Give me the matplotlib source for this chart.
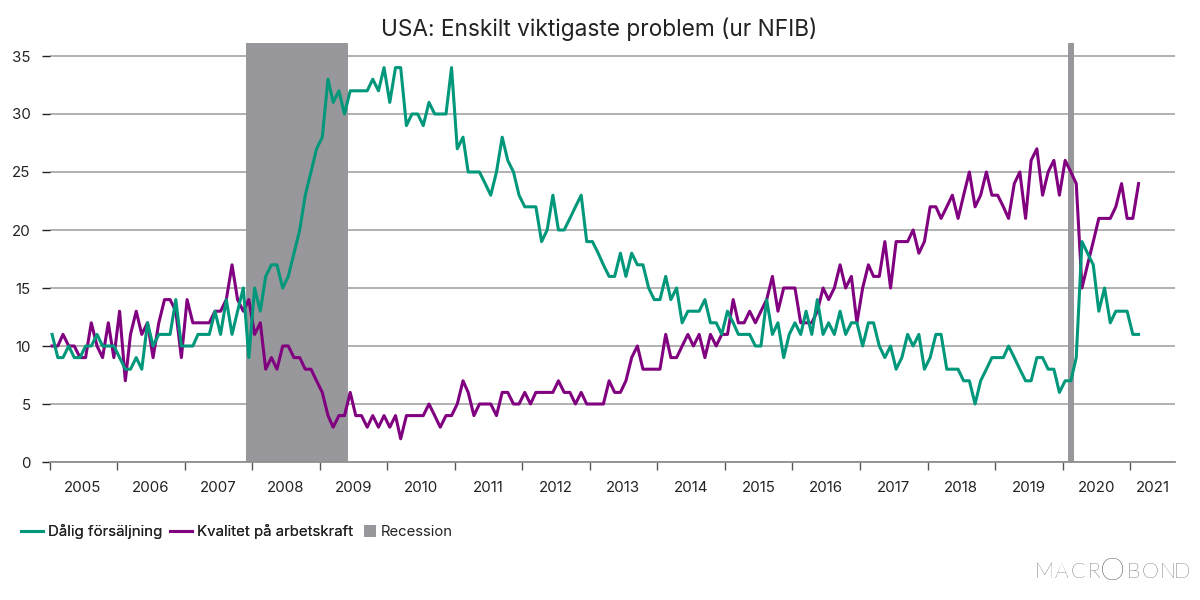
import numpy as np
import pandas as pd
import matplotlib
matplotlib.use("Agg")
import matplotlib.pyplot as plt
from matplotlib.lines import Line2D
from matplotlib.patches import Patch

FONT = "Inter"
plt.rcParams["font.family"] = [FONT, "DejaVu Sans"]

TITLE = "USA: Enskilt viktigaste problem (ur NFIB)"
LABEL_SALES = "Dålig försäljning"
LABEL_LABOR = "Kvalitet på arbetskraft"
LABEL_RECESSION = "Recession"
START = "2005-01-01"

poor_sales = [
    11, 9, 9, 10, 9, 9, 10, 10, 11, 10, 10, 10,
    9, 8, 8, 9, 8, 12, 10, 11, 11, 11, 14, 10,
    10, 10, 11, 11, 11, 13, 11, 14, 11, 13, 15, 9,
    15, 13, 16, 17, 17, 15, 16, 18, 20, 23, 25, 27,
    28, 33, 31, 32, 30, 32, 32, 32, 32, 33, 32, 34,
    31, 34, 34, 29, 30, 30, 29, 31, 30, 30, 30, 34,
    27, 28, 25, 25, 25, 24, 23, 25, 28, 26, 25, 23,
    22, 22, 22, 19, 20, 23, 20, 20, 21, 22, 23, 19,
    19, 18, 17, 16, 16, 18, 16, 18, 17, 17, 15, 14,
    14, 16, 14, 15, 12, 13, 13, 13, 14, 12, 12, 11,
    13, 12, 11, 11, 11, 10, 10, 14, 11, 12, 9, 11,
    12, 11, 13, 11, 14, 11, 12, 11, 13, 11, 12, 12,
    10, 12, 12, 10, 9, 10, 8, 9, 11, 10, 11, 8,
    9, 11, 11, 8, 8, 8, 7, 7, 5, 7, 8, 9,
    9, 9, 10, 9, 8, 7, 7, 9, 9, 8, 8, 6,
    7, 7, 9, 19, 18, 17, 13, 15, 12, 13, 13, 13,
    11, 11,
]
labor_quality = [
    10, 10, 11, 10, 10, 9, 9, 12, 10, 9, 12, 9,
    13, 7, 11, 13, 11, 12, 9, 12, 14, 14, 13, 9,
    14, 12, 12, 12, 12, 13, 13, 14, 17, 14, 13, 14,
    11, 12, 8, 9, 8, 10, 10, 9, 9, 8, 8, 7,
    6, 4, 3, 4, 4, 6, 4, 4, 3, 4, 3, 4,
    3, 4, 2, 4, 4, 4, 4, 5, 4, 3, 4, 4,
    5, 7, 6, 4, 5, 5, 5, 4, 6, 6, 5, 5,
    6, 5, 6, 6, 6, 6, 7, 6, 6, 5, 6, 5,
    5, 5, 5, 7, 6, 6, 7, 9, 10, 8, 8, 8,
    8, 11, 9, 9, 10, 11, 10, 11, 9, 11, 10, 11,
    11, 14, 12, 12, 13, 12, 13, 14, 16, 13, 15, 15,
    15, 12, 12, 12, 13, 15, 14, 15, 17, 15, 16, 12,
    15, 17, 16, 16, 19, 15, 19, 19, 19, 20, 18, 19,
    22, 22, 21, 22, 23, 21, 23, 25, 22, 23, 25, 23,
    23, 22, 21, 24, 25, 21, 26, 27, 23, 25, 26, 23,
    26, 25, 24, 15, 17, 19, 21, 21, 21, 22, 24, 21,
    21, 24,
]
recession_starts = ["2007-12-01", "2020-02-01"]
recession_ends = ["2009-06-01", "2020-03-01"]
year_ticks = list(range(2005, 2022))
y_ticks = [0, 5, 10, 15, 20, 25, 30, 35]

GREEN = "#00977A"
PURPLE = "#800080"
GRAY = "#98989C"
GRID = "#ABABAB"
TEXT = "#222222"

dates = pd.date_range(START, periods=len(poor_sales), freq="MS") + pd.Timedelta(days=14)

fig = plt.figure(figsize=(12, 6), dpi=100, facecolor="white")
ax = fig.add_axes([49.5 / 1200, 1 - 462 / 600, (1175 - 49.5) / 1200, (462 - 43) / 600])

for s, e in zip(recession_starts, recession_ends):
    ax.axvspan(pd.Timestamp(s), pd.Timestamp(e), color=GRAY, lw=0, zorder=2)

ax.plot(dates, poor_sales, color=GREEN, lw=2.2, zorder=4, solid_joinstyle="round")
ax.plot(dates, labor_quality, color=PURPLE, lw=2.2, zorder=3, solid_joinstyle="round")

ax.set_xlim(pd.Timestamp("2005-01-01"), pd.Timestamp("2021-08-31"))
ax.set_ylim(0, (462 - 43) / 11.6)
ax.set_yticks(y_ticks)
ax.grid(axis="y", color=GRID, lw=1.3, zorder=1)
ax.set_axisbelow(True)
ax.tick_params(axis="y", length=5.6, width=1, color="#222222", labelsize=10.8,
               labelcolor=TEXT, pad=8)
for sp in ["top", "right", "left"]:
    ax.spines[sp].set_visible(False)
ax.spines["bottom"].set_color("#8F8F8F")
ax.spines["bottom"].set_linewidth(1.3)
ax.spines["bottom"].set_zorder(5)

ax.set_xticks([pd.Timestamp(f"{y}-01-01") for y in year_ticks])
ax.set_xticklabels([])
ax.tick_params(axis="x", which="major", length=5.8, width=1, color="#555555")
label_pos = [pd.Timestamp(f"{y}-07-01") for y in year_ticks[:-1]] + [pd.Timestamp("2021-05-03")]
ax.set_xticks(label_pos, minor=True)
ax.set_xticklabels([str(y) for y in year_ticks], minor=True)
ax.tick_params(axis="x", which="minor", length=0, labelsize=10.8, labelcolor=TEXT, pad=13.7)

fig.text(599.5 / 1200, 1 - 29 / 600, TITLE, ha="center", va="center", fontsize=16.35, color=TEXT)

line_handles = [Line2D([0], [0], color=GREEN, lw=2.2), Line2D([0], [0], color=PURPLE, lw=2.2)]
leg1 = fig.legend(line_handles, [LABEL_SALES, LABEL_LABOR], loc="center left",
                  bbox_to_anchor=(21 / 1200, 1 - 532 / 600), ncol=2, frameon=False,
                  fontsize=10.85, labelcolor=TEXT, borderpad=0, borderaxespad=0,
                  handlelength=1.46, handletextpad=0.33, columnspacing=0.53)
leg2 = fig.legend([Patch(facecolor=GRAY, edgecolor="none")], [LABEL_RECESSION], loc="center left",
                  bbox_to_anchor=(364 / 1200, 1 - 532 / 600), frameon=False,
                  fontsize=10.7, labelcolor=TEXT, borderpad=0, borderaxespad=0,
                  handlelength=0.81, handleheight=0.81, handletextpad=0.33)
fig.add_artist(leg1)

logo = "MACROBOND"
logo_x = [1044, 1061, 1078, 1093.5, 1112, 1133, 1150, 1168, 1182]
for i, (ch, lx) in enumerate(zip(logo, logo_x)):
    fig.text(lx / 1200, 1 - 571.5 / 600, ch, ha="center", va="center",
             fontsize=23 if i == 4 else 15.5, color="#000000",
             family=["Lato", "DejaVu Sans"], fontweight="light")

fig.savefig("out.png", dpi=100, facecolor="white")
